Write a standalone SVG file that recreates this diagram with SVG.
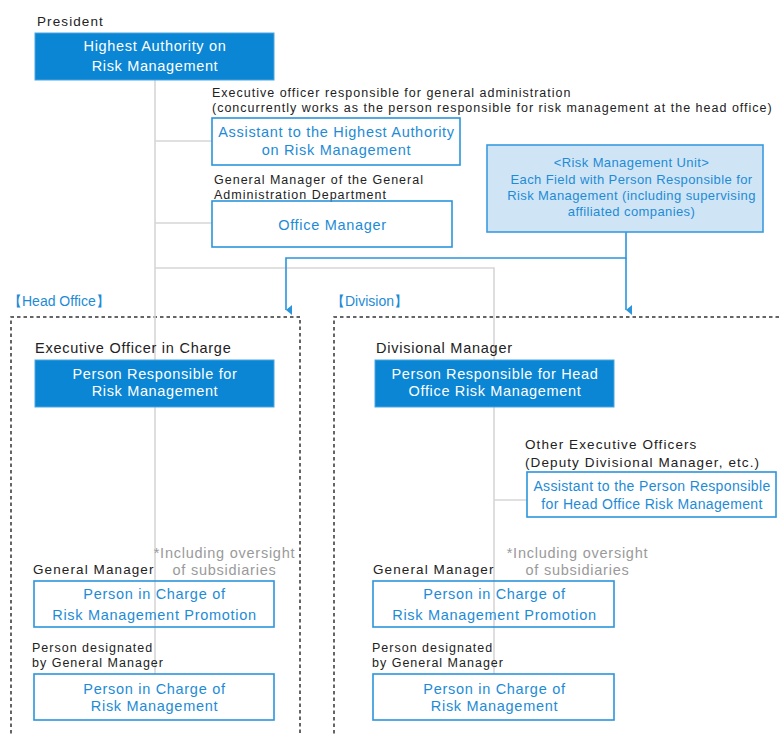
<svg xmlns="http://www.w3.org/2000/svg" width="779" height="734" viewBox="0 0 779 734">
<style>
text{font-family:"Liberation Sans",Arial,sans-serif}
.lbl{font-size:13.5px;fill:#222;letter-spacing:1.1px}
.lblb{font-size:14.5px;fill:#222;letter-spacing:0.75px}
.lbls{font-size:12.5px;fill:#222;letter-spacing:1px}
.note{font-size:14.5px;fill:#9a9a9a;letter-spacing:0.75px}
.sec{font-size:14px;fill:#1e8bd6}
.wt{font-size:14.5px;fill:#fff;letter-spacing:0.65px}
.bt{font-size:14.5px;fill:#1e8bd6;letter-spacing:0.7px}
.bu{font-size:13px;fill:#1e8bd6;letter-spacing:0.4px}
.ba{font-size:14px;fill:#1e8bd6;letter-spacing:0.35px}
.solid{fill:#0a86d4;stroke:#4aa6e0;stroke-width:1}
.out{fill:none;stroke:#2b95dc;stroke-width:1.6}
.unit{fill:#cfe5f5;stroke:#3a9be0;stroke-width:1.6}
.gray{stroke:#d6d6d6;stroke-width:1.6;fill:none}
.blue{stroke:#2b95dc;stroke-width:1.6;fill:none}
.dash{stroke:#333;stroke-width:1.5;stroke-dasharray:3.5,3;fill:none}
</style>
<defs>
<marker id="ah" viewBox="0 0 10 6" refX="5" refY="6" markerWidth="10" markerHeight="6" markerUnits="userSpaceOnUse" orient="auto-start-reverse">
<path d="M0,0 L10,0 L5,6 Z" fill="#2b95dc"/>
</marker>
</defs>

<g id="sections">
<text class="sec" x="8" y="306">【Head Office】</text>
<path class="dash" d="M11,740 V317 H300 V740"/>
<text class="sec" x="331" y="306">【Division】</text>
<path class="dash" d="M334,740 V317 H780"/>
</g>

<g id="connectors">
<path class="gray" d="M155,80 V674"/>
<path class="gray" d="M155,141 H212"/>
<path class="gray" d="M155,223 H212"/>
<path class="gray" d="M155,268 H494 V674"/>
<path class="gray" d="M494,500 H527"/>
<path class="blue" d="M626,232 V258 H286 V310" marker-end="url(#ah)"/>
<path class="blue" d="M626,258 V310" marker-end="url(#ah)"/>
</g>

<g id="president">
<text class="lbl" x="37" y="26">President</text>
<rect class="solid" x="35" y="33" width="239" height="47"/>
<text class="wt" x="155" y="51" text-anchor="middle">Highest Authority on</text>
<text class="wt" x="155" y="71" text-anchor="middle">Risk Management</text>
</g>

<g id="assistant-top">
<text class="lbls" x="212" y="97">Executive officer responsible for general administration</text>
<text class="lbls" x="212" y="112">(concurrently works as the person responsible for risk management at the head office)</text>
<rect class="out" x="212" y="118" width="248" height="47"/>
<text class="bt" x="336.5" y="137" text-anchor="middle">Assistant to the Highest Authority</text>
<text class="bt" x="336.5" y="155" text-anchor="middle">on Risk Management</text>
</g>

<g id="office-manager">
<text class="lbls" x="214" y="184">General Manager of the General</text>
<text class="lbls" x="214" y="199">Administration Department</text>
<rect class="out" x="212" y="201" width="240" height="46"/>
<text class="bt" x="332.5" y="230" text-anchor="middle">Office Manager</text>
</g>

<g id="unit">
<rect class="unit" x="487" y="145" width="276" height="87"/>
<text class="bu" x="631.5" y="167" text-anchor="middle">&lt;Risk Management Unit&gt;</text>
<text class="bu" x="631.5" y="184" text-anchor="middle">Each Field with Person Responsible for</text>
<text class="bu" x="631.5" y="200" text-anchor="middle">Risk Management (including supervising</text>
<text class="bu" x="631.5" y="216" text-anchor="middle">affiliated companies)</text>
</g>

<g id="ho-responsible">
<text class="lblb" x="35" y="353">Executive Officer in Charge</text>
<rect class="solid" x="35" y="360" width="239" height="47"/>
<text class="wt" x="155" y="379" text-anchor="middle">Person Responsible for</text>
<text class="wt" x="155" y="396" text-anchor="middle">Risk Management</text>
</g>

<g id="ho-promotion">
<text class="note" x="224.5" y="558" text-anchor="middle">*Including oversight</text>
<text class="note" x="224.5" y="575" text-anchor="middle">of subsidiaries</text>
<text class="lbl" x="33" y="574">General Manager</text>
<rect class="out" x="34" y="581" width="240" height="46"/>
<text class="bt" x="154.5" y="599" text-anchor="middle">Person in Charge of</text>
<text class="bt" x="154.5" y="620" text-anchor="middle">Risk Management Promotion</text>
</g>

<g id="ho-charge">
<text class="lbls" x="32" y="652">Person designated</text>
<text class="lbls" x="32" y="667">by General Manager</text>
<rect class="out" x="34" y="674" width="240" height="46"/>
<text class="bt" x="154.5" y="694" text-anchor="middle">Person in Charge of</text>
<text class="bt" x="154.5" y="711" text-anchor="middle">Risk Management</text>
</g>

<g id="div-responsible">
<text class="lblb" x="376" y="353">Divisional Manager</text>
<rect class="solid" x="375" y="360" width="239" height="47"/>
<text class="wt" x="495" y="379" text-anchor="middle">Person Responsible for Head</text>
<text class="wt" x="495" y="396" text-anchor="middle">Office Risk Management</text>
</g>

<g id="div-assistant">
<text class="lbl" x="525" y="449">Other Executive Officers</text>
<text class="lbl" x="525" y="467">(Deputy Divisional Manager, etc.)</text>
<rect class="out" x="527" y="472" width="249" height="45"/>
<text class="ba" x="652" y="491" text-anchor="middle">Assistant to the Person Responsible</text>
<text class="ba" x="652" y="509" text-anchor="middle">for Head Office Risk Management</text>
</g>

<g id="div-promotion">
<text class="note" x="577.5" y="558" text-anchor="middle">*Including oversight</text>
<text class="note" x="577.5" y="575" text-anchor="middle">of subsidiaries</text>
<text class="lbl" x="373" y="574">General Manager</text>
<rect class="out" x="373" y="581" width="241" height="46"/>
<text class="bt" x="494.5" y="599" text-anchor="middle">Person in Charge of</text>
<text class="bt" x="494.5" y="620" text-anchor="middle">Risk Management Promotion</text>
</g>

<g id="div-charge">
<text class="lbls" x="372" y="652">Person designated</text>
<text class="lbls" x="372" y="667">by General Manager</text>
<rect class="out" x="373" y="674" width="241" height="46"/>
<text class="bt" x="494.5" y="694" text-anchor="middle">Person in Charge of</text>
<text class="bt" x="494.5" y="711" text-anchor="middle">Risk Management</text>
</g>
</svg>
